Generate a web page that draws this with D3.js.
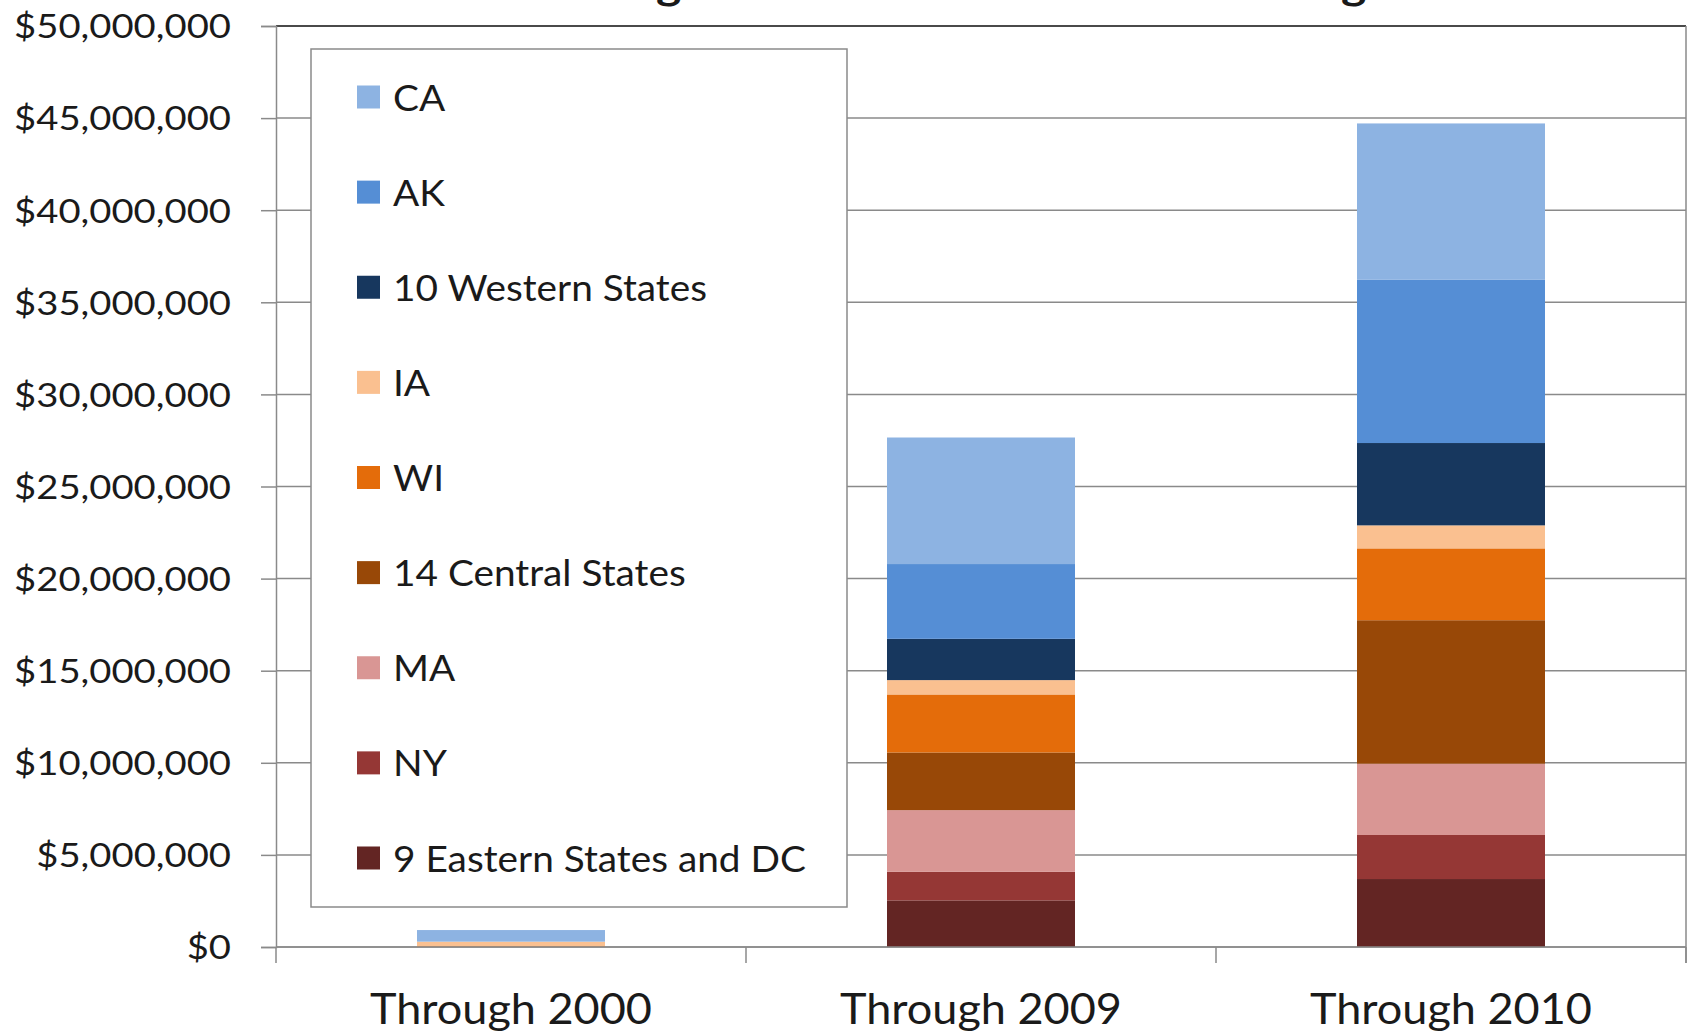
<!DOCTYPE html>
<html>
<head>
<meta charset="utf-8">
<script src="https://cdn.jsdelivr.net/npm/d3@7"></script>
<style>
  html, body { margin: 0; padding: 0; background: #ffffff; }
  svg { display: block; }
  text { font-family: Lato, "Open Sans", sans-serif; fill: #1a1a1a; }
</style>
</head>
<body>
<svg id="chart" width="1694" height="1036"></svg>
<script>
// Cumulative funding by period, stacked by state group (dollars)
const categories = ["Through 2000", "Through 2009", "Through 2010"];

const eastern9  = [0,      2530000, 3690000];
const ny        = [0,      1550000, 2390000];
const ma        = [0,      3350000, 3870000];
const central14 = [0,      3130000, 7790000];
const wi        = [40000,  3150000, 3900000];
const ia        = [250000,  780000, 1250000];
const western10 = [0,      2240000, 4470000];
const ak        = [0,      4060000, 8860000];
const ca        = [630000, 6870000, 8490000];

// Stack order, bottom to top
const seriesKeys   = ["east9", "ny", "ma", "central14", "wi", "ia", "west10", "ak", "ca"];
const seriesLabels = ["9 Eastern States and DC", "NY", "MA", "14 Central States", "WI", "IA", "10 Western States", "AK", "CA"];
const seriesValues = [eastern9, ny, ma, central14, wi, ia, western10, ak, ca];
const seriesColors = ["#632523", "#953735", "#D99694", "#984807", "#E46C0A", "#FAC090", "#17375E", "#558ED5", "#8DB3E2"];

const yTicks = [0, 5e6, 10e6, 15e6, 20e6, 25e6, 30e6, 35e6, 40e6, 45e6, 50e6];
const chartTitle = "Total Congressional Earmark State Funding";

// Build rows for d3.stack
const rows = categories.map((c, i) => {
  const r = { category: c };
  seriesKeys.forEach((k, j) => { r[k] = seriesValues[j][i]; });
  return r;
});
const stacked = d3.stack().keys(seriesKeys)(rows);

const svg = d3.select("#chart");
const W = 1694, H = 1036;
const plotLeft = 276, plotRight = 1686, plotTop = 26, plotBottom = 947;

svg.append("rect").attr("width", W).attr("height", H).attr("fill", "#ffffff");

const x = d3.scaleBand().domain(categories).range([plotLeft, plotRight])
  .paddingInner(0.6).paddingOuter(0.3);
const xCells = d3.scaleBand().domain(categories).range([plotLeft, plotRight]);
const y = d3.scaleLinear().domain([0, 50e6]).range([plotBottom, plotTop]);
const color = d3.scaleOrdinal().domain(seriesKeys).range(seriesColors);

// Horizontal gridlines
svg.append("g").selectAll("line")
  .data(yTicks.slice(0, -1))
  .join("line")
  .attr("x1", plotLeft).attr("x2", plotRight)
  .attr("y1", d => y(d)).attr("y2", d => y(d))
  .attr("stroke", "#8a8a8a").attr("stroke-width", 1.5);
svg.append("line")
  .attr("x1", plotLeft).attr("x2", plotRight)
  .attr("y1", y(50e6)).attr("y2", y(50e6))
  .attr("stroke", "#4a4a4a").attr("stroke-width", 2);
// Right edge of the plot area
svg.append("line")
  .attr("x1", plotRight).attr("x2", plotRight)
  .attr("y1", y(50e6)).attr("y2", y(0) + 16)
  .attr("stroke", "#8a8a8a").attr("stroke-width", 1.5);

// Legend box (drawn under the bars)
const legendBox = { x: 311, y: 49, w: 536, h: 858 };
const legend = svg.append("g");
legend.append("rect")
  .attr("x", legendBox.x).attr("y", legendBox.y)
  .attr("width", legendBox.w).attr("height", legendBox.h)
  .attr("fill", "#ffffff").attr("stroke", "#8a8a8a").attr("stroke-width", 1.5);

// Stacked bars
svg.append("g").selectAll("g")
  .data(stacked)
  .join("g")
  .attr("fill", d => color(d.key))
  .selectAll("rect")
  .data(d => d)
  .join("rect")
  .attr("x", d => x(d.data.category))
  .attr("width", x.bandwidth())
  .attr("y", d => y(d[1]))
  .attr("height", d => Math.max(0, y(d[0]) - y(d[1])));

// Y axis
const yAxis = svg.append("g")
  .attr("transform", `translate(${plotLeft},0)`)
  .call(d3.axisLeft(y).tickValues(yTicks).tickFormat(d3.format("$,.0f")).tickSize(15).tickPadding(0));
yAxis.select(".domain").attr("stroke", "#8a8a8a").attr("stroke-width", 1.5);
yAxis.selectAll(".tick line").attr("stroke", "#8a8a8a").attr("stroke-width", 1.5);
const yLabels = yAxis.selectAll(".tick text")
  .attr("font-size", 33).attr("fill", "#1a1a1a")
  .attr("x", 0).attr("dy", "0.36em").attr("text-anchor", "end");
let yRef = 0;
yLabels.each(function (d) { if (d === 50e6) yRef = this.getComputedTextLength(); });
const ySx = yRef ? 217 / yRef : 1;
yLabels.attr("transform", `translate(${231 - plotLeft},0) scale(${ySx},1)`);

// X axis baseline and cell boundary ticks
svg.append("line")
  .attr("x1", plotLeft).attr("x2", plotRight)
  .attr("y1", y(0)).attr("y2", y(0))
  .attr("stroke", "#8a8a8a").attr("stroke-width", 1.5);
const boundaries = categories.map(c => xCells(c)).concat([plotRight]);
svg.append("g").selectAll("line")
  .data(boundaries)
  .join("line")
  .attr("x1", d => d).attr("x2", d => d)
  .attr("y1", y(0)).attr("y2", y(0) + 16)
  .attr("stroke", "#8a8a8a").attr("stroke-width", 1.5);

const xLabels = svg.append("g").selectAll("text")
  .data(categories)
  .join("text")
  .attr("font-size", 42)
  .attr("text-anchor", "middle")
  .text(d => d);
let xRef = 0;
xLabels.each(function () { xRef = Math.max(xRef, this.getComputedTextLength()); });
const xSx = xRef ? 282 / xRef : 1;
xLabels.attr("transform", d => `translate(${xCells(d) + xCells.bandwidth() / 2},1024) scale(${xSx},1)`);

// Legend entries, top to bottom in reverse stack order
const legendOrder = d3.range(seriesKeys.length).reverse();
const rowY = d3.scalePoint().domain(legendOrder).range([97, 858]);
const items = legend.selectAll("g.item")
  .data(legendOrder)
  .join("g")
  .attr("class", "item")
  .attr("transform", i => `translate(0,${rowY(i)})`);
items.append("rect")
  .attr("x", 357).attr("y", -11.5)
  .attr("width", 23).attr("height", 23)
  .attr("fill", i => seriesColors[i]);
const legendText = items.append("text")
  .attr("font-size", 37.5)
  .attr("dy", "0.36em")
  .text(i => seriesLabels[i]);
let lRef = 0;
legendText.each(function () { lRef = Math.max(lRef, this.getComputedTextLength()); });
const lSx = lRef ? 413 / lRef : 1;
legendText.attr("transform", `translate(393,0) scale(${lSx},1)`);

// Title (sits at the very top edge of the page)
svg.append("text")
  .attr("x", 910).attr("y", -1)
  .attr("text-anchor", "middle")
  .attr("font-size", 40).attr("font-weight", "bold")
  .attr("textLength", 913).attr("lengthAdjust", "spacingAndGlyphs")
  .text(chartTitle);
</script>
</body>
</html>
